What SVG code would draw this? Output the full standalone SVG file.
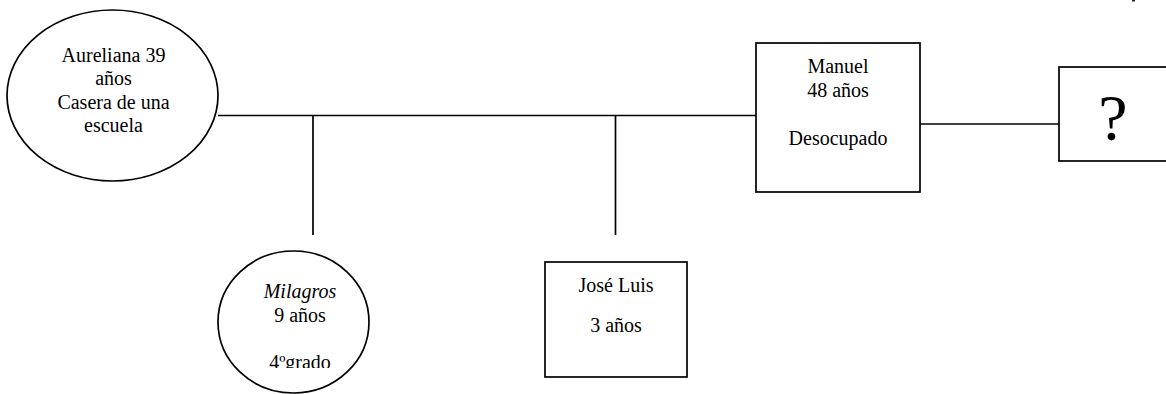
<svg xmlns="http://www.w3.org/2000/svg" width="1166" height="394" viewBox="0 0 1166 394">
  <style>
    .shape { fill: #ffffff; stroke: #000000; stroke-width: 1.7; }
    .link { fill: none; stroke: #000000; stroke-width: 1.7; }
    .label { font-family: "Liberation Serif", "Times New Roman", serif; font-size: 20px; fill: #000000; text-anchor: middle; }
    .big { font-size: 66px; }
    .it { font-style: italic; }
  </style>
  <defs>
    <clipPath id="milagros-clip">
      <rect x="200" y="240" width="190" height="128"/>
    </clipPath>
  </defs>
  <rect width="1166" height="394" fill="#ffffff"/>

  <!-- family lines -->
  <g id="connectors">
    <line class="link" x1="218" y1="115.5" x2="757" y2="115.5"/>
    <line class="link" x1="313" y1="115.5" x2="313" y2="235"/>
    <line class="link" x1="615.5" y1="115.5" x2="615.5" y2="235"/>
    <line class="link" x1="920" y1="124" x2="1059" y2="124"/>
  </g>

  <g id="aureliana">
    <ellipse class="shape" cx="112.5" cy="95.5" rx="105.5" ry="85.5"/>
    <text class="label" x="113.5" y="61.5">Aureliana 39</text>
    <text class="label" x="113.5" y="85">años</text>
    <text class="label" x="113.5" y="108.5">Casera de una</text>
    <text class="label" x="113.5" y="131.5">escuela</text>
  </g>

  <g id="manuel">
    <rect class="shape" x="756" y="43" width="164" height="149"/>
    <text class="label" x="838" y="73">Manuel</text>
    <text class="label" x="838" y="96.5">48 años</text>
    <text class="label" x="838" y="145">Desocupado</text>
  </g>

  <g id="desconocido">
    <rect class="shape" x="1059" y="67" width="120" height="94"/>
    <text class="label big" x="1113" y="140">?</text>
  </g>

  <g id="milagros">
    <ellipse class="shape" cx="293.5" cy="322" rx="75.5" ry="71"/>
    <g clip-path="url(#milagros-clip)">
      <text class="label it" x="300" y="298">Milagros</text>
      <text class="label" x="300" y="321.5">9 años</text>
      <text class="label" x="300" y="369">4ºgrado</text>
    </g>
  </g>

  <g id="jose-luis">
    <rect class="shape" x="545" y="262" width="142" height="115"/>
    <text class="label" x="616" y="291.5">José Luis</text>
    <text class="label" x="616" y="331.5">3 años</text>
  </g>

  <!-- small stray stroke at the top edge -->
  <rect x="1132" y="0" width="3" height="1.5" fill="#222222"/>
</svg>
